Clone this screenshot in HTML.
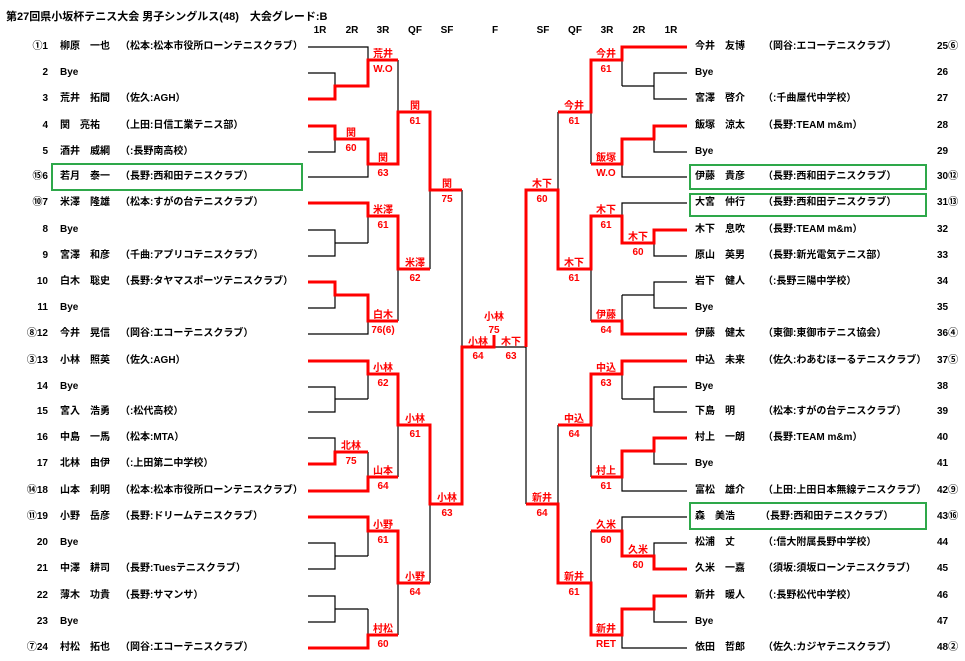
<!DOCTYPE html>
<html><head><meta charset="utf-8">
<style>
body{margin:0;background:#fff;width:965px;height:661px;overflow:hidden;position:relative;font-family:"Liberation Sans","Noto Sans CJK JP",sans-serif;font-weight:bold;font-size:10px;color:#000}
.t{position:absolute;white-space:nowrap;line-height:14px}
.n{text-align:right;width:48px}
svg{position:absolute;left:0;top:0}
svg text{font-family:"Liberation Sans","Noto Sans CJK JP",sans-serif;font-weight:bold;font-size:10px;fill:#f00;text-anchor:middle}
svg text.h{fill:#000}
</style></head><body>
<svg width="965" height="661">
<rect x="52" y="164" width="250" height="26" fill="none" stroke="#2ea84a" stroke-width="2"/>
<rect x="690" y="165" width="236" height="24" fill="none" stroke="#2ea84a" stroke-width="2"/>
<rect x="690" y="194" width="236" height="22" fill="none" stroke="#2ea84a" stroke-width="2"/>
<rect x="690" y="503" width="236" height="26" fill="none" stroke="#2ea84a" stroke-width="2"/>
<path fill="none" stroke="#000" stroke-width="1.2" d="
M308,47H368V60 M308,73H335V99 M335,86H368 M398,60V164 M308,152H335V126 M308,177H368V139 M430,112V269
M368,203V243 M308,230H335V256H308 M335,243H368 M308,308H335V282 M308,334H368V295 M398,216V321 M462,190V504
M368,361V399 M308,387H335V412H308 M335,399H368 M308,438H335V464 M368,452V491 M398,374V477 M430,425V583
M368,517V556 M308,543H335V569H308 M335,556H368 M308,596H335V622H308 M335,609H368 M368,609V648 M398,531V635
M462,347H526
M622,47V86 M687,73H654V99H687 M654,86H622 M591,60V164 M687,126H654V152H687 M654,139H622 M687,177H622V139 M558,112V269
M687,203H622V243 M687,230H654V256H687 M654,243H622 M687,282H654V308H687 M654,295H622 M622,295V334 M591,216V321 M526,190V504
M622,361V399 M687,387H654V412H687 M654,399H622 M687,438H654V464H687 M622,451V491H687 M591,374V477 M558,425V583
M687,517H622V556 M687,543H654V569H687 M622,609V648H687 M687,596H654V622H687 M591,531V635"/>
<path fill="none" stroke="#f00" stroke-width="3" d="
M308,99H335V86H368V60H398 M308,126H335V139H368V164H398V112H430V190H462 M308,203H368V216H398V269H430
M308,282H335V295H368V321H398 M308,361H368V374H398V425H430V504H462V347H494V335 M308,464H335V452H368
M308,491H368V477H398 M308,517H368V531H398V583H430 M308,648H368V635H398
M687,47H622V60H591V112H558 M687,126H654V139H622V164H591 M687,230H654V243H622V216H591V269H558V190H526V347
M687,334H622V321H591 M687,361H622V374H591V425H558 M687,438H654V451H622V477H591 M687,569H654V556H622V531H591
M687,596H654V609H622V635H591V583H558V504H526"/>
<g>
<text x="383" y="57">荒井</text><text x="383" y="72">W.O</text>
<text x="351" y="136">関</text><text x="351" y="151">60</text>
<text x="383" y="161">関</text><text x="383" y="176">63</text>
<text x="415" y="109">関</text><text x="415" y="124">61</text>
<text x="447" y="187">関</text><text x="447" y="202">75</text>
<text x="383" y="213">米澤</text><text x="383" y="228">61</text>
<text x="383" y="318">白木</text><text x="383" y="333">76(6)</text>
<text x="415" y="266">米澤</text><text x="415" y="281">62</text>
<text x="383" y="371">小林</text><text x="383" y="386">62</text>
<text x="351" y="449">北林</text><text x="351" y="464">75</text>
<text x="383" y="474">山本</text><text x="383" y="489">64</text>
<text x="415" y="422">小林</text><text x="415" y="437">61</text>
<text x="383" y="528">小野</text><text x="383" y="543">61</text>
<text x="383" y="632">村松</text><text x="383" y="647">60</text>
<text x="415" y="580">小野</text><text x="415" y="595">64</text>
<text x="447" y="501">小林</text><text x="447" y="516">63</text>
<text x="478" y="345">小林</text><text x="478" y="359">64</text>
<text x="494" y="320">小林</text><text x="494" y="333">75</text>
<text x="606" y="57">今井</text><text x="606" y="72">61</text>
<text x="606" y="161">飯塚</text><text x="606" y="176">W.O</text>
<text x="574" y="109">今井</text><text x="574" y="124">61</text>
<text x="638" y="240">木下</text><text x="638" y="255">60</text>
<text x="606" y="213">木下</text><text x="606" y="228">61</text>
<text x="606" y="318">伊藤</text><text x="606" y="333">64</text>
<text x="574" y="266">木下</text><text x="574" y="281">61</text>
<text x="542" y="187">木下</text><text x="542" y="202">60</text>
<text x="511" y="345">木下</text><text x="511" y="359">63</text>
<text x="606" y="371">中込</text><text x="606" y="386">63</text>
<text x="606" y="474">村上</text><text x="606" y="489">61</text>
<text x="574" y="422">中込</text><text x="574" y="437">64</text>
<text x="638" y="553">久米</text><text x="638" y="568">60</text>
<text x="606" y="528">久米</text><text x="606" y="543">60</text>
<text x="606" y="632">新井</text><text x="606" y="647">RET</text>
<text x="574" y="580">新井</text><text x="574" y="595">61</text>
<text x="542" y="501">新井</text><text x="542" y="516">64</text>
</g>
<g>
<text class="h" x="320" y="33">1R</text><text class="h" x="352" y="33">2R</text><text class="h" x="383" y="33">3R</text><text class="h" x="415" y="33">QF</text><text class="h" x="447" y="33">SF</text>
<text class="h" x="495" y="33">F</text>
<text class="h" x="543" y="33">SF</text><text class="h" x="575" y="33">QF</text><text class="h" x="607" y="33">3R</text><text class="h" x="639" y="33">2R</text><text class="h" x="671" y="33">1R</text>
</g>
</svg>
<div class="t" style="left:6px;top:10px;font-size:11px">第27回県小坂杯テニス大会 男子シングルス(48)　大会グレード:B</div>

<div class="t n" style="left:0;top:40px">①1</div><div class="t" style="left:60px;top:40px">柳原　一也</div><div class="t" style="left:120px;top:40px">（松本:松本市役所ローンテニスクラブ）</div>
<div class="t n" style="left:0;top:66px">2</div><div class="t" style="left:60px;top:66px">Bye</div>
<div class="t n" style="left:0;top:92px">3</div><div class="t" style="left:60px;top:92px">荒井　拓間</div><div class="t" style="left:120px;top:92px">（佐久:AGH）</div>
<div class="t n" style="left:0;top:119px">4</div><div class="t" style="left:60px;top:119px">関　亮祐</div><div class="t" style="left:120px;top:119px">（上田:日信工業テニス部）</div>
<div class="t n" style="left:0;top:145px">5</div><div class="t" style="left:60px;top:145px">酒井　威綱</div><div class="t" style="left:120px;top:145px">（:長野南高校）</div>
<div class="t n" style="left:0;top:170px">⑮6</div><div class="t" style="left:60px;top:170px">若月　泰一</div><div class="t" style="left:120px;top:170px">（長野:西和田テニスクラブ）</div>
<div class="t n" style="left:0;top:196px">⑩7</div><div class="t" style="left:60px;top:196px">米澤　隆雄</div><div class="t" style="left:120px;top:196px">（松本:すがの台テニスクラブ）</div>
<div class="t n" style="left:0;top:223px">8</div><div class="t" style="left:60px;top:223px">Bye</div>
<div class="t n" style="left:0;top:249px">9</div><div class="t" style="left:60px;top:249px">宮澤　和彦</div><div class="t" style="left:120px;top:249px">（千曲:アプリコテニスクラブ）</div>
<div class="t n" style="left:0;top:275px">10</div><div class="t" style="left:60px;top:275px">白木　聡史</div><div class="t" style="left:120px;top:275px">（長野:タヤマスポーツテニスクラブ）</div>
<div class="t n" style="left:0;top:301px">11</div><div class="t" style="left:60px;top:301px">Bye</div>
<div class="t n" style="left:0;top:327px">⑧12</div><div class="t" style="left:60px;top:327px">今井　晃信</div><div class="t" style="left:120px;top:327px">（岡谷:エコーテニスクラブ）</div>
<div class="t n" style="left:0;top:354px">③13</div><div class="t" style="left:60px;top:354px">小林　照英</div><div class="t" style="left:120px;top:354px">（佐久:AGH）</div>
<div class="t n" style="left:0;top:380px">14</div><div class="t" style="left:60px;top:380px">Bye</div>
<div class="t n" style="left:0;top:405px">15</div><div class="t" style="left:60px;top:405px">宮入　浩勇</div><div class="t" style="left:120px;top:405px">（:松代高校）</div>
<div class="t n" style="left:0;top:431px">16</div><div class="t" style="left:60px;top:431px">中島　一馬</div><div class="t" style="left:120px;top:431px">（松本:MTA）</div>
<div class="t n" style="left:0;top:457px">17</div><div class="t" style="left:60px;top:457px">北林　由伊</div><div class="t" style="left:120px;top:457px">（:上田第二中学校）</div>
<div class="t n" style="left:0;top:484px">⑭18</div><div class="t" style="left:60px;top:484px">山本　利明</div><div class="t" style="left:120px;top:484px">（松本:松本市役所ローンテニスクラブ）</div>
<div class="t n" style="left:0;top:510px">⑪19</div><div class="t" style="left:60px;top:510px">小野　岳彦</div><div class="t" style="left:120px;top:510px">（長野:ドリームテニスクラブ）</div>
<div class="t n" style="left:0;top:536px">20</div><div class="t" style="left:60px;top:536px">Bye</div>
<div class="t n" style="left:0;top:562px">21</div><div class="t" style="left:60px;top:562px">中澤　耕司</div><div class="t" style="left:120px;top:562px">（長野:Tuesテニスクラブ）</div>
<div class="t n" style="left:0;top:589px">22</div><div class="t" style="left:60px;top:589px">薄木　功貴</div><div class="t" style="left:120px;top:589px">（長野:サマンサ）</div>
<div class="t n" style="left:0;top:615px">23</div><div class="t" style="left:60px;top:615px">Bye</div>
<div class="t n" style="left:0;top:641px">⑦24</div><div class="t" style="left:60px;top:641px">村松　拓也</div><div class="t" style="left:120px;top:641px">（岡谷:エコーテニスクラブ）</div>

<div class="t" style="left:695px;top:40px">今井　友博</div><div class="t" style="left:763px;top:40px">（岡谷:エコーテニスクラブ）</div><div class="t" style="left:937px;top:40px">25⑥</div>
<div class="t" style="left:695px;top:66px">Bye</div><div class="t" style="left:937px;top:66px">26</div>
<div class="t" style="left:695px;top:92px">宮澤　啓介</div><div class="t" style="left:763px;top:92px">（:千曲屋代中学校）</div><div class="t" style="left:937px;top:92px">27</div>
<div class="t" style="left:695px;top:119px">飯塚　涼太</div><div class="t" style="left:763px;top:119px">（長野:TEAM m&amp;m）</div><div class="t" style="left:937px;top:119px">28</div>
<div class="t" style="left:695px;top:145px">Bye</div><div class="t" style="left:937px;top:145px">29</div>
<div class="t" style="left:695px;top:170px">伊藤　貴彦</div><div class="t" style="left:763px;top:170px">（長野:西和田テニスクラブ）</div><div class="t" style="left:937px;top:170px">30⑫</div>
<div class="t" style="left:695px;top:196px">大宮　仲行</div><div class="t" style="left:763px;top:196px">（長野:西和田テニスクラブ）</div><div class="t" style="left:937px;top:196px">31⑬</div>
<div class="t" style="left:695px;top:223px">木下　息吹</div><div class="t" style="left:763px;top:223px">（長野:TEAM m&amp;m）</div><div class="t" style="left:937px;top:223px">32</div>
<div class="t" style="left:695px;top:249px">原山　英男</div><div class="t" style="left:763px;top:249px">（長野:新光電気テニス部）</div><div class="t" style="left:937px;top:249px">33</div>
<div class="t" style="left:695px;top:275px">岩下　健人</div><div class="t" style="left:763px;top:275px">（:長野三陽中学校）</div><div class="t" style="left:937px;top:275px">34</div>
<div class="t" style="left:695px;top:301px">Bye</div><div class="t" style="left:937px;top:301px">35</div>
<div class="t" style="left:695px;top:327px">伊藤　健太</div><div class="t" style="left:763px;top:327px">（東御:東御市テニス協会）</div><div class="t" style="left:937px;top:327px">36④</div>
<div class="t" style="left:695px;top:354px">中込　未来</div><div class="t" style="left:763px;top:354px">（佐久:わあむほーるテニスクラブ）</div><div class="t" style="left:937px;top:354px">37⑤</div>
<div class="t" style="left:695px;top:380px">Bye</div><div class="t" style="left:937px;top:380px">38</div>
<div class="t" style="left:695px;top:405px">下島　明</div><div class="t" style="left:763px;top:405px">（松本:すがの台テニスクラブ）</div><div class="t" style="left:937px;top:405px">39</div>
<div class="t" style="left:695px;top:431px">村上　一朗</div><div class="t" style="left:763px;top:431px">（長野:TEAM m&amp;m）</div><div class="t" style="left:937px;top:431px">40</div>
<div class="t" style="left:695px;top:457px">Bye</div><div class="t" style="left:937px;top:457px">41</div>
<div class="t" style="left:695px;top:484px">富松　雄介</div><div class="t" style="left:763px;top:484px">（上田:上田日本無線テニスクラブ）</div><div class="t" style="left:937px;top:484px">42⑨</div>
<div class="t" style="left:695px;top:510px">森　美浩</div><div class="t" style="left:760px;top:510px">（長野:西和田テニスクラブ）</div><div class="t" style="left:937px;top:510px">43⑯</div>
<div class="t" style="left:695px;top:536px">松浦　丈</div><div class="t" style="left:763px;top:536px">（:信大附属長野中学校）</div><div class="t" style="left:937px;top:536px">44</div>
<div class="t" style="left:695px;top:562px">久米　一嘉</div><div class="t" style="left:763px;top:562px">（須坂:須坂ローンテニスクラブ）</div><div class="t" style="left:937px;top:562px">45</div>
<div class="t" style="left:695px;top:589px">新井　暖人</div><div class="t" style="left:763px;top:589px">（:長野松代中学校）</div><div class="t" style="left:937px;top:589px">46</div>
<div class="t" style="left:695px;top:615px">Bye</div><div class="t" style="left:937px;top:615px">47</div>
<div class="t" style="left:695px;top:641px">依田　哲郎</div><div class="t" style="left:763px;top:641px">（佐久:カジヤテニスクラブ）</div><div class="t" style="left:937px;top:641px">48②</div>
</body></html>
